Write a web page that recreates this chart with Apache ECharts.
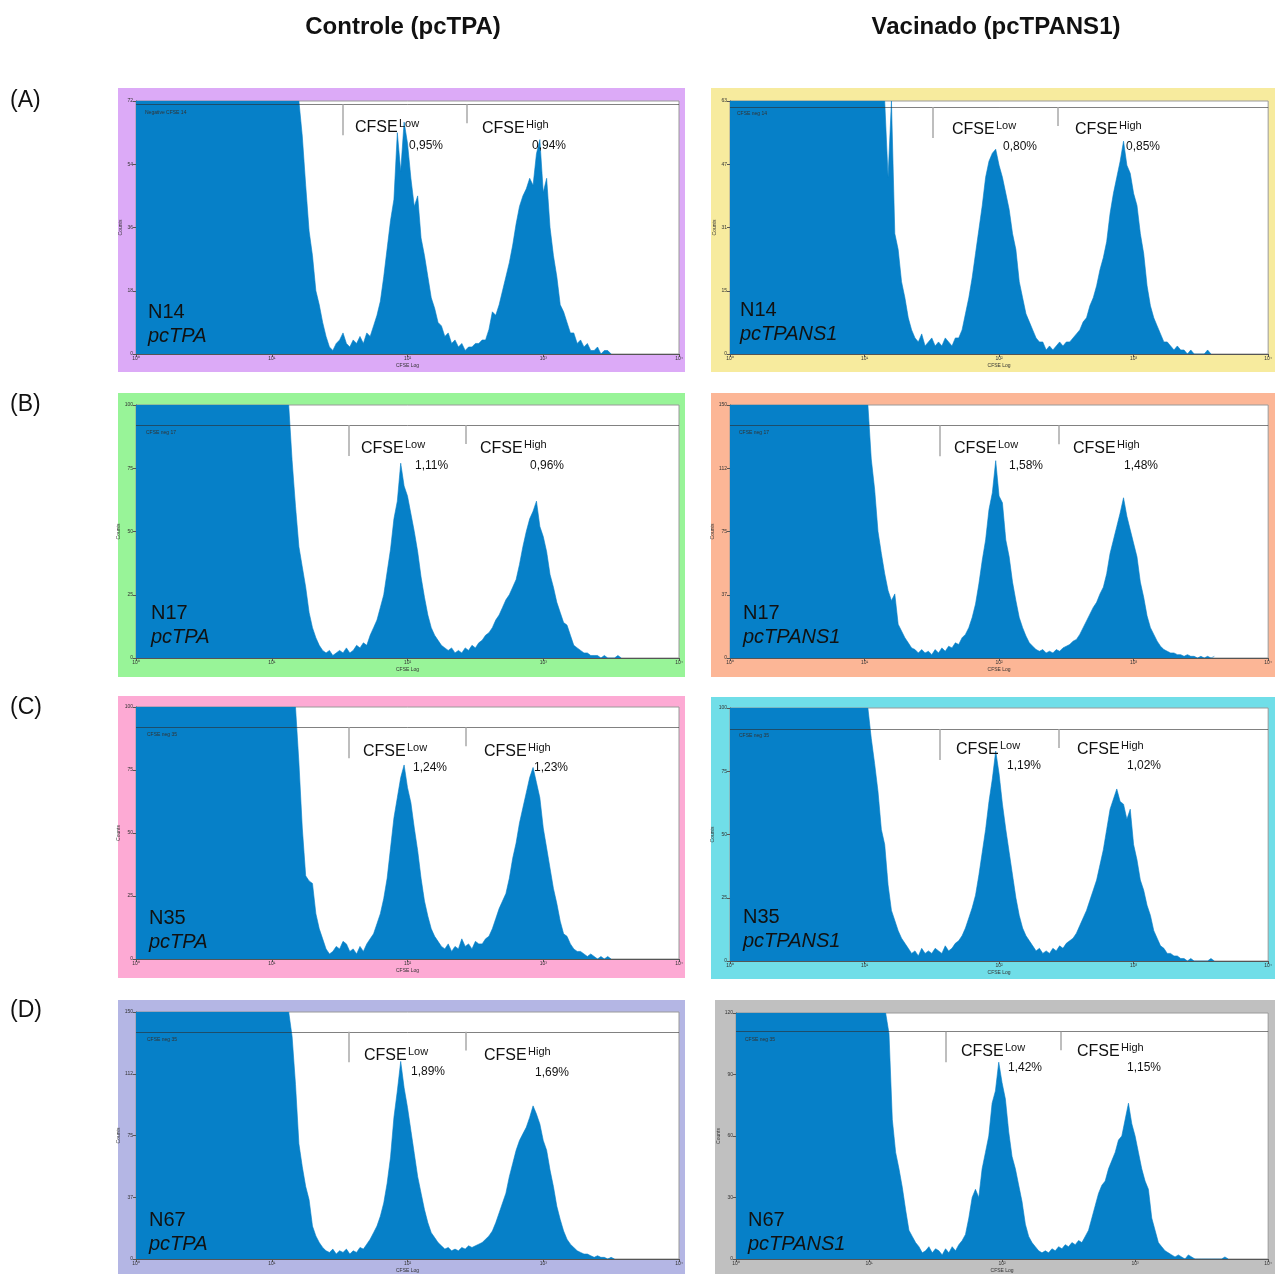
<!DOCTYPE html>
<html>
<head>
<meta charset="utf-8">
<title>CFSE proliferation</title>
<script src="https://cdn.jsdelivr.net/npm/echarts@6/dist/echarts.min.js"></script>
<style>
html,body{margin:0;padding:0;background:#ffffff;}
#chart{width:1275px;height:1274px;}
</style>
</head>
<body>
<div id="chart"></div>
<script>
// ---------------- data ----------------
const BIN_STEP = 0.025; // histogram channel width, log10 units
const xTickLabels = ['10\u2070', '10\u00b9', '10\u00b2', '10\u00b3', '10\u2074'];
const columnTitles = ['Controle (pcTPA)', 'Vacinado (pcTPANS1)'];
const rowLetters = ['(A)', '(B)', '(C)', '(D)'];
const sampleNames = ['N14', 'N14', 'N17', 'N17', 'N35', 'N35', 'N67', 'N67'];
const groupNames = ['pcTPA', 'pcTPANS1', 'pcTPA', 'pcTPANS1', 'pcTPA', 'pcTPANS1', 'pcTPA', 'pcTPANS1'];
const gateNames = ['Negative CFSE 14', 'CFSE neg 14', 'CFSE neg 17', 'CFSE neg 17', 'CFSE neg 35', 'CFSE neg 35', 'CFSE neg 35', 'CFSE neg 35'];
const pctLow = ['0,95%', '0,80%', '1,11%', '1,58%', '1,24%', '1,19%', '1,89%', '1,42%'];
const pctHigh = ['0,94%', '0,85%', '0,96%', '1,48%', '1,23%', '1,02%', '1,69%', '1,15%'];
const yMax = [72, 63, 100, 150, 100, 100, 150, 120];
const startLog = [1.2, 1.125, 1.125, 1.0, 1.15, 1.025, 1.125, 1.125];

const countsAL = [72,62,48,35,28,18,14,9,5,2,1,3,4,6,3,2,4,3,5,3,6,5,8,11,15,22,30,38,44,63,52,66,60,50,42,45,33,28,22,16,13,9,8,5,6,3,4,2,3,1,2,2,3,3,4,4,7,12,11,14,18,22,26,31,37,42,45,47,50,48,57,61,46,50,36,28,22,14,12,9,6,6,3,4,2,3,1,1,2,0,1,1,0];
const countsAR = [63,63,44,63,30,26,18,14,9,6,4,3,5,2,3,4,2,3,2,4,3,2,4,4,6,10,14,19,25,31,37,44,48,50,51,47,44,40,36,30,26,18,14,10,8,6,4,3,3,1,2,1,2,3,2,3,3,4,5,6,8,9,12,14,17,21,24,28,35,40,44,48,53,47,45,40,37,30,25,17,12,9,7,5,3,3,2,1,2,1,1,0,1,0,0,0,0,1,0];
const countsBL = [100,78,60,44,36,28,18,12,8,5,3,2,3,1,2,3,2,4,2,3,5,4,6,5,9,12,15,20,25,34,43,55,62,77,68,64,57,50,42,32,24,17,12,9,7,5,4,3,4,2,3,2,4,3,5,4,6,7,9,10,12,15,17,20,23,25,28,31,37,44,50,55,58,62,52,48,42,33,28,22,18,14,13,9,5,4,3,2,2,1,1,1,0,1,0,0,0,1,0];
const countsBR = [150,150,118,100,75,62,50,40,34,38,20,16,12,9,6,5,3,5,3,4,2,5,3,6,4,7,6,9,8,12,14,18,24,32,44,58,70,88,98,117,96,92,70,60,45,34,24,18,13,9,7,5,4,5,3,4,3,5,4,6,7,8,10,11,14,18,22,26,30,33,38,42,50,62,70,78,86,95,84,76,68,60,45,36,25,18,14,10,7,5,4,3,3,2,2,1,2,1,1,0,1,0,1,0,1];
const countsCL = [100,100,78,52,33,31,30,18,12,8,4,2,3,5,4,7,6,3,4,2,5,3,6,8,10,14,18,24,32,44,56,64,72,77,68,62,52,43,32,23,17,12,9,7,5,4,6,3,5,4,8,5,6,4,7,6,6,8,9,12,16,20,23,26,32,40,46,54,60,66,72,76,70,64,52,44,36,28,22,15,10,9,6,4,3,3,2,1,2,1,0,1,0,1,0];
const countsCR = [100,88,78,67,52,46,30,20,16,12,9,7,5,3,4,2,5,3,4,3,5,4,3,6,4,5,7,8,10,13,17,21,26,34,43,52,63,72,83,74,62,52,43,34,25,18,13,10,8,6,4,5,3,4,3,5,4,6,5,7,8,9,11,14,17,20,24,28,32,38,44,52,60,64,68,63,62,56,60,46,40,32,28,22,18,12,9,6,5,3,3,2,2,1,1,0,1,0,0,0,0,0,1,0];
const countsDL = [150,135,106,70,56,44,36,20,14,10,7,5,4,6,3,5,4,6,3,5,4,7,6,9,12,16,20,26,34,46,62,86,102,120,104,92,78,64,50,40,30,22,16,13,10,8,6,7,5,6,5,7,6,8,7,8,9,10,12,14,17,22,28,34,40,50,58,66,72,76,80,86,93,88,82,72,66,54,44,32,24,17,12,9,7,5,4,3,3,2,1,2,1,1,0,1,0];
const countsDR = [120,110,68,52,44,35,24,14,11,8,6,3,4,6,3,5,4,2,5,3,6,4,7,9,12,20,30,34,30,44,52,60,76,82,96,86,78,62,50,44,36,28,17,11,8,6,4,3,4,3,5,4,6,5,7,6,8,7,9,8,11,14,20,26,32,36,38,44,48,52,58,60,68,76,66,60,52,44,38,34,20,14,8,6,4,3,2,1,2,1,0,2,1,0,0,0,0,0,0,0,0,0,1,0];
const allCounts = [countsAL, countsAR, countsBL, countsBR, countsCL, countsCR, countsDL, countsDR];

// gates (data units): CFSE-negative gate level (counts), CFSE low / high gate boundaries (log10)
const gateLevel = [71.1, 61.5, 92.1, 138, 92, 91.7, 138, 110.9];
const gateLowX = [1.525, 1.506, 1.569, 1.557, 1.569, 1.557, 1.569, 1.58];
const gateHighX = [2.438, 2.435, 2.431, 2.443, 2.431, 2.443, 2.431, 2.442];

// ---------------- layout / style ----------------
const FONT = '"Liberation Sans", Arial, Helvetica, sans-serif';
const BLUE = '#0680c8';
const layout = [
  {grid:[136,101,543,253], box:[118,88,567,284], color:'#dcaaf7', low:[355,128,409,146], high:[482,129,532,146], name:[148,312], gate:[145,113]},
  {grid:[730,101,542,253], box:[711,88,564,284], color:'#f7eb9e', low:[952,130,1003,147], high:[1075,130,1126,147], name:[740,310], gate:[737,114]},
  {grid:[136,405,543,253], box:[118,393,567,284], color:'#98f498', low:[361,449,415,466], high:[480,449,530,466], name:[151,613], gate:[146,433]},
  {grid:[730,405,542,253], box:[711,393,564,284], color:'#fcb696', low:[954,449,1009,466], high:[1073,449,1124,466], name:[743,613], gate:[739,433]},
  {grid:[136,707,543,252], box:[118,696,567,282], color:'#fdaad4', low:[363,752,413,768], high:[484,752,534,768], name:[149,918], gate:[147,735]},
  {grid:[730,708,542,253], box:[711,697,564,282], color:'#70dee8', low:[956,750,1007,766], high:[1077,750,1127,766], name:[743,917], gate:[739,736]},
  {grid:[136,1012,543,252], box:[118,1000,567,274], color:'#b4b6e4', low:[364,1056,411,1072], high:[484,1056,535,1073], name:[149,1220], gate:[147,1040]},
  {grid:[736,1013,534,250], box:[715,1000,560,274], color:'#c0c0c0', low:[961,1052,1008,1068], high:[1077,1052,1127,1068], name:[748,1220], gate:[745,1040]}
];

function buildData(start, counts) {
  const d = [[0, counts[0]]];
  counts.forEach((c, i) => d.push([+(start + i * BIN_STEP).toFixed(4), c]));
  return d;
}

const grids = [], xAxes = [], yAxes = [], series = [], graphics = [];
const txt = (x, y, text, font, extra) => Object.assign({
  type: 'text', x: x, y: y, z: 100,
  style: Object.assign({text: text, font: font, fill: '#111', textAlign: 'left', textVerticalAlign: 'middle', align: 'left', verticalAlign: 'middle'}, extra || {})
});

layout.forEach((L, i) => {
  const [gl, gt, gw, gh] = L.grid;
  graphics.push({type: 'rect', z: -10, shape: {x: L.box[0], y: L.box[1], width: L.box[2], height: L.box[3]}, style: {fill: L.color}});
  grids.push({left: gl, top: gt, width: gw, height: gh, show: true, backgroundColor: '#ffffff', borderColor: '#9a9a9a', borderWidth: 1, containLabel: false});
  xAxes.push({
    type: 'value', gridIndex: i, min: 0, max: 4, interval: 1,
    axisLine: {show: true, lineStyle: {color: '#555', width: 1}},
    axisTick: {show: true, length: 3, lineStyle: {color: '#555'}},
    splitLine: {show: false},
    axisLabel: {fontSize: 5, color: '#333', margin: 2, fontFamily: FONT, formatter: v => xTickLabels[Math.round(v)]},
    name: 'CFSE Log', nameLocation: 'middle', nameGap: 9, nameTextStyle: {fontSize: 5, color: '#333', fontFamily: FONT}
  });
  const M = yMax[i];
  yAxes.push({
    type: 'value', gridIndex: i, min: 0, max: M, interval: M / 4,
    axisLine: {show: true, lineStyle: {color: '#555', width: 1}},
    axisTick: {show: true, length: 3, lineStyle: {color: '#555'}},
    splitLine: {show: false},
    axisLabel: {fontSize: 5, color: '#333', margin: 3, fontFamily: FONT, formatter: v => String(Math.floor(v + 1e-9))},
    name: 'Counts', nameLocation: 'middle', nameRotate: 90, nameGap: 13, nameTextStyle: {fontSize: 5, color: '#333', fontFamily: FONT}
  });
  const lvl = gateLevel[i];
  const perPx = M / gh;
  const vStyle = {color: '#a8a8a8', width: 1.5, type: 'solid'};
  series.push({
    type: 'line', xAxisIndex: i, yAxisIndex: i, data: buildData(startLog[i], allCounts[i]),
    showSymbol: false, symbol: 'none', clip: true, animation: false, silent: true,
    lineStyle: {width: 0.6, color: BLUE}, areaStyle: {color: BLUE, opacity: 1},
    markLine: {
      silent: true, animation: false, symbol: ['none', 'none'], label: {show: false},
      data: [
        [{coord: [0, lvl], lineStyle: {color: 'rgba(45,45,45,0.6)', width: 1, type: 'solid'}}, {coord: [4, lvl]}],
        [{coord: [gateLowX[i], lvl], lineStyle: vStyle}, {coord: [gateLowX[i], lvl - 31 * perPx]}],
        [{coord: [gateHighX[i], lvl], lineStyle: vStyle}, {coord: [gateHighX[i], lvl - 19 * perPx]}]
      ]
    }
  });
  // annotations
  graphics.push(txt(L.gate[0], L.gate[1], gateNames[i], '5px ' + FONT, {fill: '#333'}));
  graphics.push(txt(L.low[0], L.low[1], 'CFSE', '16px ' + FONT));
  graphics.push(txt(L.low[0] + 44, L.low[1] - 4, 'Low', '11px ' + FONT));
  graphics.push(txt(L.low[2], L.low[3], pctLow[i], '12px ' + FONT));
  graphics.push(txt(L.high[0], L.high[1], 'CFSE', '16px ' + FONT));
  graphics.push(txt(L.high[0] + 44, L.high[1] - 4, 'High', '11px ' + FONT));
  graphics.push(txt(L.high[2], L.high[3], pctHigh[i], '12px ' + FONT));
  graphics.push(txt(L.name[0], L.name[1], sampleNames[i], '20px ' + FONT));
  graphics.push(txt(L.name[0], L.name[1] + 24, groupNames[i], 'italic 20px ' + FONT));
});

graphics.push(txt(403, 27, columnTitles[0], 'bold 24px ' + FONT, {textAlign: 'center', align: 'center'}));
graphics.push(txt(996, 27, columnTitles[1], 'bold 24px ' + FONT, {textAlign: 'center', align: 'center'}));
[101, 405, 708, 1011].forEach((y, k) => graphics.push(txt(10, y, rowLetters[k], '23px ' + FONT)));

const chart = echarts.init(document.getElementById('chart'), null, {renderer: 'canvas'});
chart.setOption({
  animation: false,
  backgroundColor: '#ffffff',
  grid: grids, xAxis: xAxes, yAxis: yAxes, series: series,
  graphic: {elements: graphics}
});
</script>
</body>
</html>
